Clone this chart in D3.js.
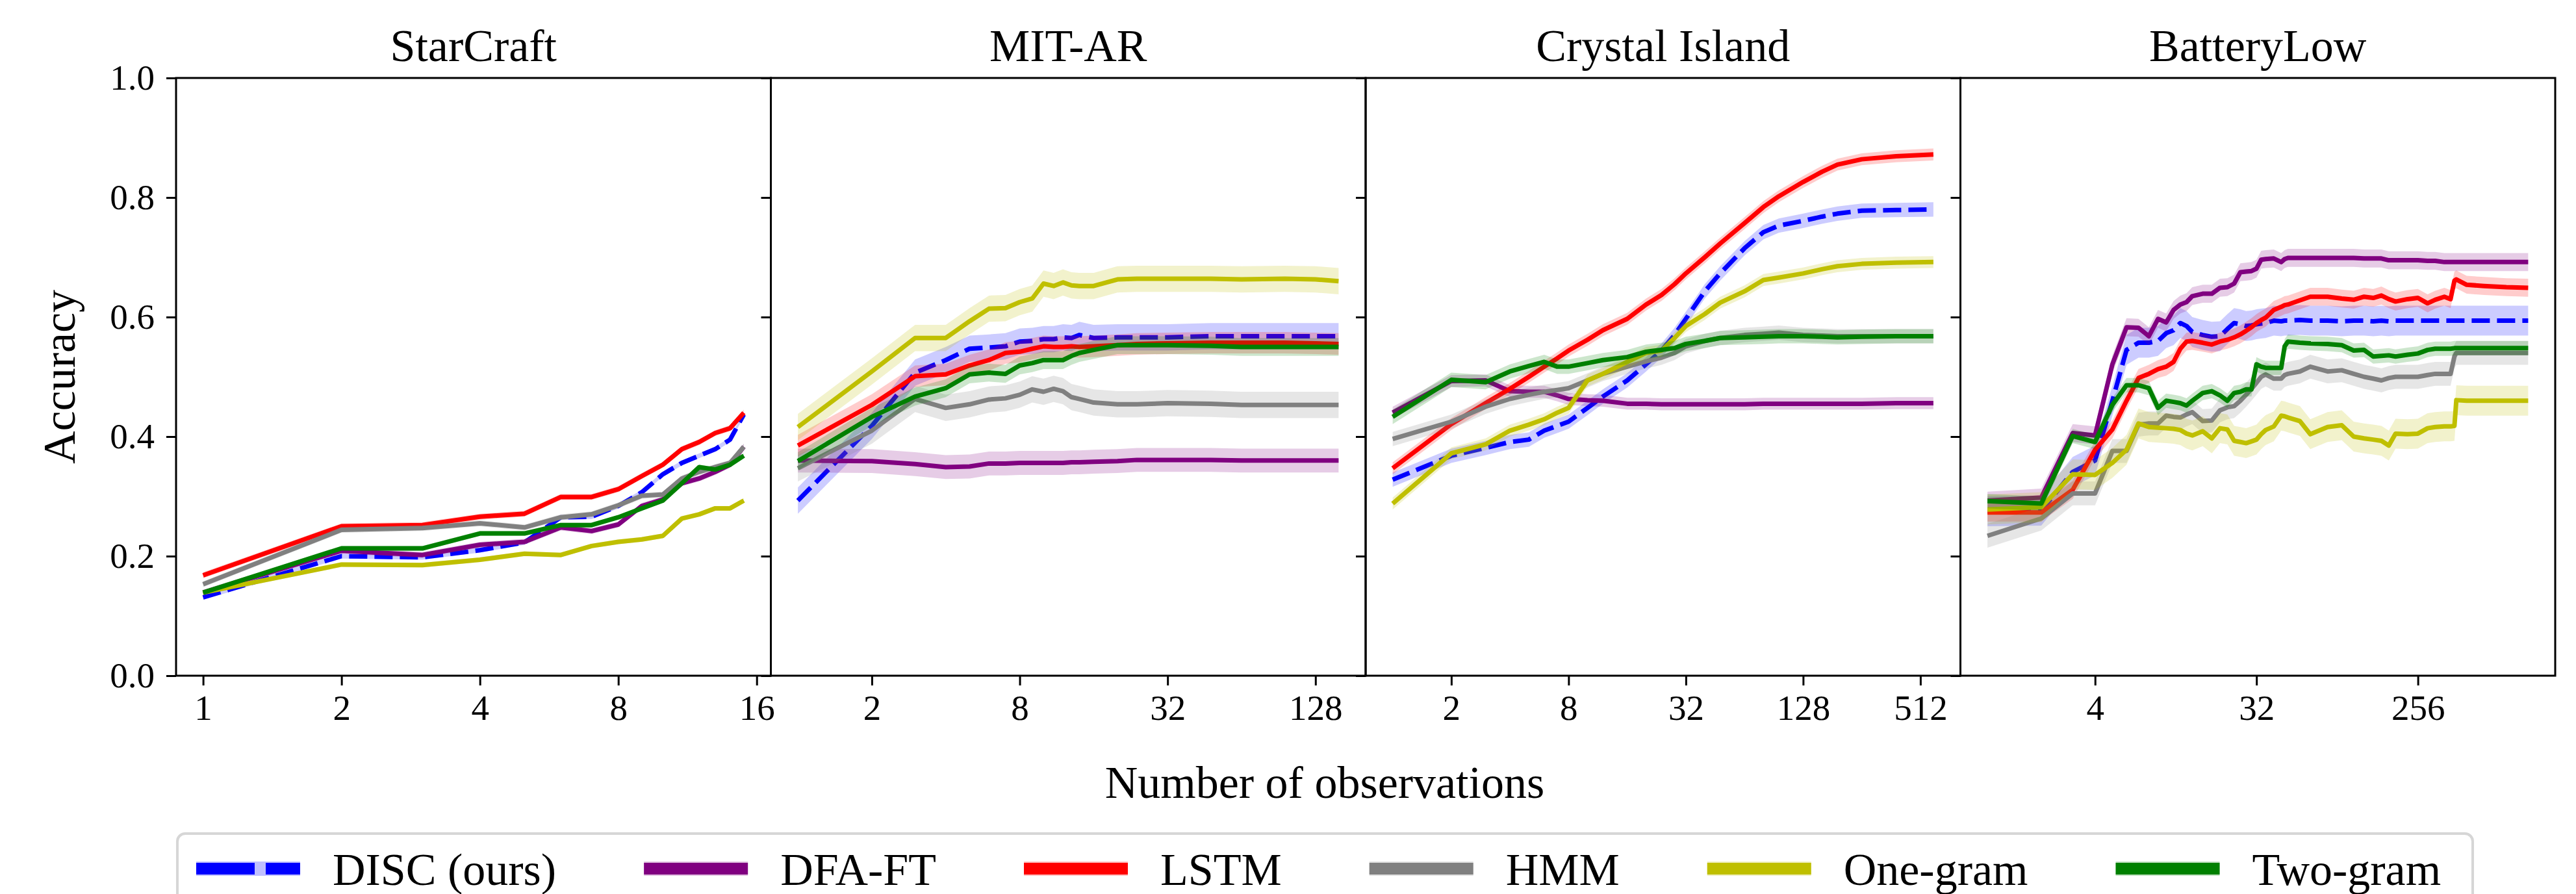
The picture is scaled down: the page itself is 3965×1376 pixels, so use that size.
<!DOCTYPE html>
<html>
<head>
<meta charset="utf-8">
<script src="https://cdn.jsdelivr.net/npm/d3@7"></script>
<style>body { margin: 0; background: #fff; }</style>
</head>
<body>
<script>
// methods + colours (legend order)
const methods = ["DISC (ours)", "DFA-FT", "LSTM", "HMM", "One-gram", "Two-gram"];
const colors = ["#0000ff", "#800080", "#ff0000", "#808080", "#bfbf00", "#008000"];
const titles = ["StarCraft", "MIT-AR", "Crystal Island", "BatteryLow"];
const FONT = "'Liberation Serif', monospace";

// x tick values per panel
const ticksSC = [1, 2, 4, 8, 16];
const ticksMIT = [2, 8, 32, 128];
const ticksCI = [2, 8, 32, 128, 512];
const ticksBL = [4, 32, 256];
const yTicks = [0, 0.2, 0.4, 0.6, 0.8, 1.0];

// StarCraft
const scX = [1, 2, 3, 4, 5, 6, 7, 8, 9, 10, 11, 12, 13, 14, 15];
const scDisc = [.131, .200, .198, .210, .223, .265, .266, .284, .307, .337, .356, .368, .379, .395, .437];
const scDfa  = [.139, .209, .202, .219, .224, .248, .242, .253, .284, .295, .322, .330, .341, .353, .383];
const scLstm = [.168, .250, .252, .266, .271, .299, .299, .312, .334, .353, .379, .391, .406, .414, .440];
const scHmm  = [.153, .244, .247, .255, .248, .265, .270, .285, .301, .303, .330, .341, .349, .356, .383];
const scOne  = [.139, .186, .185, .194, .204, .202, .217, .224, .228, .234, .263, .270, .280, .280, .293];
const scTwo  = [.139, .213, .213, .238, .238, .252, .252, .265, .280, .293, .322, .349, .345, .353, .368];
const scSpread = [.004, .005, .005, .005, .004, .004];

// MIT-AR
const mitX = [1, 2, 3, 4, 5, 6, 7, 8, 9, 10, 11, 12, 13, 14, 16, 20, 24, 32, 48, 64, 96, 128, 159];
const mitDisc = [.293, .418, .507, .528, .547, .549, .551, .559, .560, .563, .563, .566, .565, .570, .565, .566, .566, .566, .568, .568, .568, .568, .568];
const mitDfa  = [.360, .359, .354, .349, .350, .355, .355, .356, .356, .356, .356, .356, .357, .357, .358, .359, .361, .361, .361, .360, .360, .360, .360];
const mitLstm = [.385, .453, .501, .504, .519, .528, .540, .542, .547, .551, .550, .550, .551, .550, .551, .553, .555, .556, .557, .557, .557, .556, .555];
const mitHmm  = [.347, .410, .463, .448, .454, .462, .464, .470, .479, .475, .480, .476, .466, .463, .457, .454, .454, .456, .455, .453, .453, .453, .453];
const mitOne  = [.416, .509, .565, .565, .593, .614, .615, .625, .631, .656, .652, .658, .653, .652, .652, .663, .664, .664, .664, .663, .664, .663, .660];
const mitTwo  = [.359, .433, .467, .481, .504, .507, .505, .519, .523, .528, .528, .528, .535, .540, .545, .553, .553, .553, .552, .550, .550, .550, .550];
const mitSpread = [.022, .02, .018, .022, .022, .015];

// Crystal Island
const ciX = [1, 2, 3, 4, 5, 6, 7, 8, 10, 12, 16, 20, 24, 28, 32, 40, 48, 64, 80, 96, 128, 160, 192, 256, 384, 597];
const ciDisc = [.328, .368, .381, .391, .395, .410, .418, .425, .448, .467, .494, .521, .544, .570, .597, .643, .673, .715, .742, .753, .761, .768, .773, .778, .779, .780];
const ciDfa  = [.440, .493, .494, .476, .475, .475, .469, .463, .461, .460, .455, .455, .454, .454, .454, .454, .454, .454, .455, .455, .455, .455, .455, .455, .456, .456];
const ciLstm = [.347, .421, .456, .480, .500, .517, .531, .544, .562, .578, .597, .621, .637, .655, .673, .700, .723, .757, .784, .802, .826, .843, .855, .864, .869, .872];
const ciHmm  = [.396, .425, .450, .463, .470, .475, .478, .481, .494, .505, .517, .526, .532, .540, .551, .560, .565, .570, .572, .574, .570, .569, .568, .568, .568, .568];
const ciOne  = [.288, .372, .387, .410, .420, .429, .440, .448, .494, .505, .525, .540, .544, .565, .585, .605, .624, .643, .662, .666, .673, .680, .685, .689, .691, .692];
const ciTwo  = [.433, .495, .491, .509, .518, .525, .517, .517, .523, .528, .533, .542, .545, .548, .555, .560, .565, .566, .567, .568, .568, .567, .566, .567, .568, .568];
const ciSpread = [.012, .01, .01, .012, .01, .012];

// BatteryLow
const blX = [1, 2, 3, 4, 5, 6, 7, 8, 9, 10, 11, 12, 13, 14, 16, 18, 20, 22, 24, 26, 28, 30, 32, 34, 36, 40, 44, 46, 48, 56, 64, 80, 96, 112, 128, 144, 160, 176, 192, 224, 256, 290, 320, 360, 390, 410, 420, 480, 600, 800, 1060];
const blDisc = [.275, .276, .341, .360, .460, .545, .557, .557, .560, .573, .578, .590, .585, .575, .570, .567, .568, .580, .590, .588, .585, .586, .588, .589, .590, .594, .593, .594, .594, .595, .594, .594, .593, .594, .594, .593, .594, .593, .594, .594, .594, .594, .594, .594, .594, .594, .594, .594, .594, .594, .594];
const blDfa  = [.293, .298, .406, .402, .521, .583, .582, .568, .597, .591, .612, .621, .625, .635, .639, .639, .649, .650, .656, .675, .676, .677, .681, .696, .697, .698, .692, .697, .699, .699, .699, .699, .699, .699, .698, .698, .698, .695, .695, .695, .695, .694, .694, .692, .692, .692, .692, .692, .692, .692, .692];
const blLstm = [.273, .273, .311, .378, .412, .460, .498, .505, .513, .517, .525, .547, .559, .560, .557, .554, .559, .562, .566, .571, .577, .583, .590, .595, .599, .612, .617, .620, .621, .628, .634, .634, .631, .629, .634, .632, .636, .630, .626, .630, .632, .623, .629, .634, .630, .661, .663, .654, .652, .650, .649];
const blHmm  = [.234, .263, .305, .305, .376, .376, .420, .422, .422, .435, .433, .432, .437, .441, .426, .427, .444, .449, .451, .460, .470, .480, .490, .500, .504, .497, .497, .503, .505, .509, .517, .509, .511, .505, .500, .497, .494, .498, .500, .500, .500, .503, .505, .505, .505, .534, .540, .540, .540, .540, .540];
const blOne  = [.278, .282, .337, .336, .356, .378, .422, .416, .415, .414, .413, .411, .405, .402, .409, .397, .414, .412, .393, .391, .389, .392, .395, .404, .411, .417, .435, .434, .432, .426, .404, .416, .419, .400, .397, .395, .393, .385, .405, .404, .405, .414, .416, .417, .417, .418, .461, .460, .460, .460, .460];
const blTwo  = [.292, .288, .401, .391, .453, .486, .486, .481, .448, .460, .458, .456, .452, .460, .473, .476, .469, .460, .473, .475, .479, .479, .521, .517, .515, .515, .515, .551, .559, .557, .556, .555, .553, .544, .545, .534, .535, .536, .534, .537, .539, .545, .547, .547, .547, .548, .548, .548, .548, .548, .548];
const blSpread = [.025, .015, .015, .02, .025, .012];

const panels = [
  { xs: scX, ys: [scDisc, scDfa, scLstm, scHmm, scOne, scTwo], spread: scSpread, ticks: ticksSC },
  { xs: mitX, ys: [mitDisc, mitDfa, mitLstm, mitHmm, mitOne, mitTwo], spread: mitSpread, ticks: ticksMIT },
  { xs: ciX, ys: [ciDisc, ciDfa, ciLstm, ciHmm, ciOne, ciTwo], spread: ciSpread, ticks: ticksCI },
  { xs: blX, ys: [blDisc, blDfa, blLstm, blHmm, blOne, blTwo], spread: blSpread, ticks: ticksBL }
];

// touch the font once through a canvas so the system face is loaded before the svg is laid out
const ctx = document.createElement("canvas").getContext("2d");
ctx.font = "60px " + FONT;
ctx.measureText("Accuracy 0.8 StarCraft");

const W = 3965, H = 1376;
const yTop = 120, yBottom = 1040, left0 = 271, pw = 915.5;

const svg = d3.select("body").append("svg")
  .attr("width", W)
  .attr("height", H);

const y = d3.scaleLinear().domain([0, 1]).range([yBottom, yTop]);

panels.forEach((p, i) => {
  const x0 = left0 + i * pw;
  const lo = d3.min(p.xs), hi = d3.max(p.xs);
  const m = Math.pow(hi / lo, 0.05); // matplotlib-ish margins on log axis
  const x = d3.scaleLog().base(2).domain([lo / m, hi * m]).range([x0, x0 + pw]);

  const g = svg.append("g");

  g.append("clipPath").attr("id", "clip" + i)
    .append("rect").attr("x", x0).attr("y", yTop).attr("width", pw).attr("height", yBottom - yTop);

  const plot = g.append("g").attr("clip-path", "url(#clip" + i + ")");

  p.ys.forEach((vals, j) => {
    const pts = p.xs.map((xv, k) => [xv, vals[k]]);
    const s = p.spread[j];
    const area = d3.area()
      .x(d => x(d[0]))
      .y0(d => y(d[1] - s))
      .y1(d => y(d[1] + s));
    plot.append("path")
      .attr("d", area(pts))
      .attr("fill", colors[j])
      .attr("fill-opacity", 0.2);

    const line = d3.line().x(d => x(d[0])).y(d => y(d[1]));
    const path = plot.append("path")
      .attr("d", line(pts))
      .attr("fill", "none")
      .attr("stroke", colors[j])
      .attr("stroke-width", 7)
      .attr("stroke-linejoin", "round");
    if (j == 0) path.attr("stroke-dasharray", "28,11");
  });

  // x axis
  const xAxis = d3.axisBottom(x)
    .tickValues(p.ticks)
    .tickFormat(d3.format("d"))
    .tickSize(15)
    .tickPadding(14);
  const gx = g.append("g").attr("transform", "translate(0," + yBottom + ")").call(xAxis);
  gx.attr("font-family", FONT).attr("font-size", 55);
  gx.select(".domain").remove();
  gx.selectAll("line").attr("stroke", "#000").attr("stroke-width", 3);
  gx.selectAll("text").attr("font-family", FONT).attr("font-size", 55).attr("fill", "#000");

  // y axis (labels only on first panel)
  const yAxis = d3.axisLeft(y)
    .tickValues(yTicks)
    .tickFormat(i == 0 ? d3.format(".1f") : "")
    .tickSize(15)
    .tickPadding(18);
  const gy = g.append("g").attr("transform", "translate(" + x0 + ",0)").call(yAxis);
  gy.attr("font-family", FONT).attr("font-size", 55);
  gy.select(".domain").remove();
  gy.selectAll("line").attr("stroke", "#000").attr("stroke-width", 3);
  gy.selectAll("text").attr("font-family", FONT).attr("font-size", 55).attr("fill", "#000");

  // frame
  g.append("rect")
    .attr("x", x0).attr("y", yTop)
    .attr("width", pw).attr("height", yBottom - yTop)
    .attr("fill", "none")
    .attr("stroke", "#000")
    .attr("stroke-width", 3);

  g.append("text")
    .attr("x", x0 + pw / 2)
    .attr("y", 94)
    .attr("text-anchor", "middle")
    .attr("font-family", FONT)
    .attr("font-size", 70)
    .text(titles[i]);
});

// axis labels
svg.append("text")
  .attr("transform", "translate(115," + (yTop + yBottom) / 2 + ") rotate(-90)")
  .attr("text-anchor", "middle")
  .attr("font-family", FONT)
  .attr("font-size", 70)
  .text("Accuracy");

svg.append("text")
  .attr("x", 2039)
  .attr("y", 1228)
  .attr("text-anchor", "middle")
  .attr("font-family", FONT)
  .attr("font-size", 70)
  .text("Number of observations");

// legend
svg.append("rect")
  .attr("x", 273).attr("y", 1283)
  .attr("width", 3533).attr("height", 220)
  .attr("rx", 12)
  .attr("fill", "#fff")
  .attr("stroke", "#d6d6d6")
  .attr("stroke-width", 4);

let lx = 302;
const ly = 1337;
methods.forEach((name, j) => {
  svg.append("rect")
    .attr("x", lx).attr("y", ly - 11)
    .attr("width", 160).attr("height", 22)
    .attr("fill", colors[j])
    .attr("fill-opacity", 0.25);
  const hl = svg.append("line")
    .attr("x1", lx).attr("x2", lx + 160)
    .attr("y1", ly).attr("y2", ly)
    .attr("stroke", colors[j])
    .attr("stroke-width", 18);
  if (j == 0) hl.attr("stroke-dasharray", "90,17");
  const t = svg.append("text")
    .attr("x", lx + 210)
    .attr("y", 1362)
    .attr("font-family", FONT)
    .attr("font-size", 70)
    .text(name);
  const w = t.node().getComputedTextLength();
  lx = lx + 210 + w + 135;
});
</script>
</body>
</html>
